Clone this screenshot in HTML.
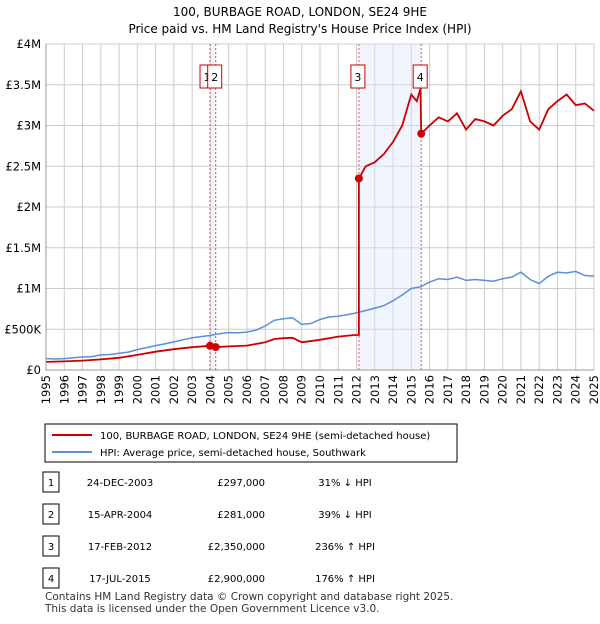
<!DOCTYPE html>
<html><head><meta charset="utf-8"><style>
body{margin:0;background:#fff;font-family:"DejaVu Sans",sans-serif;}
svg text{font-family:"DejaVu Sans",sans-serif;}
</style></head><body>
<svg width="600" height="620" id="c">
<text x="300" y="16" text-anchor="middle" font-size="12">100, BURBAGE ROAD, LONDON, SE24 9HE</text>
<text x="300" y="33" text-anchor="middle" font-size="12">Price paid vs. HM Land Registry's House Price Index (HPI)</text>
<g id="grid"></g><g id="shade"></g><g id="lines"></g><g id="axes"></g>
<g>
<rect x="45" y="424" width="412" height="38" fill="#fff" stroke="#000"/>
<line x1="52" y1="435" x2="92" y2="435" stroke="#cc0000" stroke-width="2"/>
<text x="100" y="439" font-size="10">100, BURBAGE ROAD, LONDON, SE24 9HE (semi-detached house)</text>
<line x1="52" y1="452" x2="92" y2="452" stroke="#5b8fd6" stroke-width="2"/>
<text x="100" y="456" font-size="10">HPI: Average price, semi-detached house, Southwark</text>
</g>
<g id="table" font-size="10"></g>
<text x="45" y="600" font-size="10.5" fill="#333">Contains HM Land Registry data © Crown copyright and database right 2025.</text>
<text x="45" y="612" font-size="10.5" fill="#333">This data is licensed under the Open Government Licence v3.0.</text>
</svg>
<script>
const hpiYears=[1995,1995.5,1996,1996.5,1997,1997.5,1998,1998.5,1999,1999.5,2000,2000.5,2001,2001.5,2002,2002.5,2003,2003.5,2004,2004.5,2005,2005.5,2006,2006.5,2007,2007.5,2008,2008.5,2009,2009.5,2010,2010.5,2011,2011.5,2012,2012.5,2013,2013.5,2014,2014.5,2015,2015.5,2016,2016.5,2017,2017.5,2018,2018.5,2019,2019.5,2020,2020.5,2021,2021.5,2022,2022.5,2023,2023.5,2024,2024.5,2025];
const hpiValues=[140,135,140,150,160,165,185,190,205,220,250,275,300,320,345,370,395,410,425,445,460,455,465,490,540,610,630,640,560,570,620,650,660,680,700,730,760,790,850,920,1000,1020,1080,1120,1110,1140,1100,1110,1100,1090,1120,1140,1200,1110,1060,1150,1200,1190,1210,1160,1150];
const priceYears=[1995,1996,1997,1998,1999,2000,2001,2002,2003,2003.98,2004.29,2005,2006,2007,2007.5,2008,2008.5,2009,2010,2011,2011.9,2012.13,2012.13,2012.5,2013,2013.5,2014,2014.5,2015,2015.3,2015.5,2015.54,2016,2016.5,2017,2017.5,2018,2018.5,2019,2019.5,2020,2020.5,2021,2021.5,2022,2022.5,2023,2023.5,2024,2024.5,2025];
const priceValues=[100,105,115,130,150,185,225,255,280,297,281,290,300,340,380,390,395,340,370,410,430,430,2350,2500,2550,2650,2800,3000,3380,3300,3450,2900,3000,3100,3050,3150,2950,3080,3050,3000,3120,3200,3420,3050,2950,3200,3300,3380,3250,3270,3180];
const saleLabels=["1","2","3","4"];
const saleYears=[2003.98,2004.29,2012.13,2015.54];
const saleValues=[297,281,2350,2900];
const saleDates=["24-DEC-2003","15-APR-2004","17-FEB-2012","17-JUL-2015"];
const salePrices=["£297,000","£281,000","£2,350,000","£2,900,000"];
const saleHpi=["31% ↓ HPI","39% ↓ HPI","236% ↑ HPI","176% ↑ HPI"];
const yTicks=[0,500,1000,1500,2000,2500,3000,3500,4000];
const yTickLabels=["£0","£500K","£1M","£1.5M","£2M","£2.5M","£3M","£3.5M","£4M"];
const ns="http://www.w3.org/2000/svg";
const X0=46,X1=594,Y0=370,Y1=44;
const x=t=>X0+(t-1995)/30*(X1-X0);
const y=v=>Y0-v/4000*(Y0-Y1);
function mk(p,tag,a){const e=document.createElementNS(ns,tag);for(const k in a)e.setAttribute(k,a[k]);document.getElementById(p).appendChild(e);return e;}
for(let yr=1995;yr<=2025;yr++){
 const g=mk('grid','line',{x1:x(yr),x2:x(yr),y1:Y1,y2:Y0,stroke:'#ccc'});
 
 
 const t=mk('axes','text',{transform:`translate(${x(yr)+4},${Y0+5}) rotate(-90)`,'text-anchor':'end','font-size':'11.5'});
 t.textContent=yr;
 
 
}
yTicks.forEach((v,i)=>{
 const g=mk('grid','line',{x1:X0,x2:X1,y1:y(v),y2:y(v),stroke:'#ccc'});
 
 
 const t=mk('axes','text',{x:X0-5,y:y(v)+4,'text-anchor':'end','font-size':'11.5'});
 t.textContent=yTickLabels[i];
 
 
});
[[0,1],[2,3]].forEach(([a,b])=>{
 const r=mk('shade','rect',{x:x(saleYears[a]),y:Y1,width:x(saleYears[b])-x(saleYears[a]),height:Y0-Y1,fill:'#dde6fa',opacity:0.4});
 
 
});
saleYears.forEach((s,i)=>{
 const l=mk('shade','line',{x1:x(s),x2:x(s),y1:Y1,y2:Y0,stroke:'#e05050','stroke-dasharray':'2,2','stroke-width':1});
 
 
});
const pts=(xs,vs)=>xs.map((t,i)=>x(t).toFixed(1)+','+y(vs[i]).toFixed(1)).join(' ');
const h=mk('lines','polyline',{points:pts(hpiYears,hpiValues),fill:'none',stroke:'#5b8fd6','stroke-width':1.5});


const p=mk('lines','polyline',{points:pts(priceYears,priceValues),fill:'none',stroke:'#cc0000','stroke-width':1.8});


saleYears.forEach((s,i)=>{
 const d=mk('lines','circle',{cx:x(s),cy:y(saleValues[i]),r:4,fill:'#cc0000'});
 
 
 const bx=i==0?x(s)-10:x(s)-8;
 const r=mk('lines','rect',{x:bx,y:65,width:14,height:23,fill:'#fff',stroke:'#cc0000'});
 
 
 const t=mk('lines','text',{x:bx+7,y:81,'text-anchor':'middle','font-size':'11'});
 t.textContent=saleLabels[i];
 
 
});
const ax=mk('axes','path',{d:`M${X0},${Y1}V${Y0}H${X1}`,fill:'none',stroke:'#999'});


saleLabels.forEach((lb,i)=>{
 const yy=482+i*32;
 const b=mk('table','rect',{x:43,y:yy-10,width:16,height:20,fill:'#fff',stroke:'#000'});
 
 
 const cells=[[51,lb,'middle'],[120,saleDates[i],'middle'],[265,salePrices[i],'end'],[345,saleHpi[i],'middle']];
 cells.forEach(c=>{
  const t=mk('table','text',{x:c[0],y:yy+4,'text-anchor':c[2]});
  t.textContent=c[1];
  
  
 });
});
</script>
</body></html>
